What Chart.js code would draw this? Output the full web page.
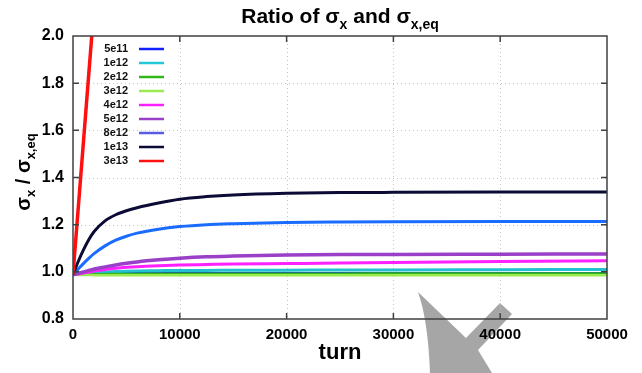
<!DOCTYPE html>
<html><head><meta charset="utf-8">
<script src="https://cdn.jsdelivr.net/npm/chart.js@4"></script>
<style>html,body{margin:0;padding:0;background:#fff;overflow:hidden}</style>
</head><body>
<canvas id="c" width="642" height="373"></canvas>
<script>
// ---- data ----
const turns = [0,500,1000,1500,2000,3000,4000,5000,6000,8000,10000,12500,15000,20000,25000,30000,40000,50000];
const turnsRed = [0, 2000];
const xTicks = [0,10000,20000,30000,40000,50000];
const yTicks = [0.8,1.0,1.2,1.4,1.6,1.8,2.0];
const seriesLabels = ['5e11','1e12','2e12','3e12','4e12','5e12','8e12','1e13','3e13'];
const v5e11 = [0.988,0.990,0.992,0.993,0.994,0.995,0.995,0.996,0.996,0.996,0.996,0.996,0.996,0.996,0.996,0.996,0.996,0.996];
const v1e12 = [0.988,0.990,0.992,0.994,0.996,0.999,1.001,1.003,1.004,1.005,1.006,1.006,1.007,1.007,1.008,1.008,1.009,1.010];
const v2e12 = [0.988,0.988,0.989,0.989,0.990,0.990,0.991,0.991,0.991,0.992,0.992,0.992,0.992,0.992,0.992,0.993,0.993,0.993];
const v3e12 = [0.988,0.987,0.987,0.987,0.986,0.986,0.986,0.986,0.986,0.986,0.986,0.986,0.986,0.986,0.986,0.986,0.986,0.986];
const v4e12 = [0.988,0.991,0.995,0.999,1.003,1.010,1.015,1.019,1.022,1.026,1.029,1.031,1.033,1.035,1.037,1.040,1.044,1.047];
const v5e12 = [0.988,0.994,1.000,1.006,1.012,1.021,1.029,1.036,1.042,1.051,1.058,1.064,1.067,1.071,1.073,1.074,1.075,1.076];
const v8e12 = [0.988,1.012,1.036,1.058,1.078,1.110,1.134,1.151,1.164,1.181,1.192,1.200,1.204,1.209,1.211,1.212,1.213,1.213];
const v1e13 = [0.988,1.045,1.095,1.138,1.172,1.216,1.242,1.259,1.272,1.292,1.308,1.319,1.326,1.333,1.336,1.337,1.338,1.338];
const v3e13 = [0.988,2.140];

const lineColors   = ['#1020ff','#22c0d0','#30b818','#9aea50','#ff20ff','#9a40c8','#1a6cff','#0b0b35','#ff1010'];
const legendColors = ['#1020ff','#22c8d8','#30b818','#9aea50','#ff20ff','#9a40c8','#5a5ae8','#0b0b35','#ff1010'];
const lineWidths   = [1.8,3,2.5,2.5,3,3.5,3,3,3.5];
const allValues = [v5e11,v1e12,v2e12,v3e12,v4e12,v5e12,v8e12,v1e13,v3e13];

function pts(xs, ys){ return xs.map((x,i)=>({x:x,y:ys[i]})); }

const datasets = allValues.map((vals,i)=>({
  label: seriesLabels[i],
  data: pts(i===8 ? turnsRed : turns, vals),
  borderColor: lineColors[i],
  legendColor: legendColors[i],
  borderWidth: lineWidths[i],
  pointRadius: 0,
  fill: false,
  cubicInterpolationMode: 'monotone',
  order: 8 - i
}));

const FONT = '"Liberation Sans", Arial, sans-serif';

function drawSubText(ctx, parts, x, y, align){
  let w = 0;
  parts.forEach(p=>{ ctx.font = p.font; w += ctx.measureText(p.t).width; });
  let cx = align==='center' ? x - w/2 : x;
  parts.forEach(p=>{
    ctx.font = p.font;
    ctx.fillText(p.t, cx, y + (p.dy||0));
    cx += ctx.measureText(p.t).width;
  });
}

const decor = {
  id: 'decor',
  beforeDraw(chart){
    const ctx = chart.ctx;
    ctx.save();
    ctx.fillStyle = '#fff';
    ctx.fillRect(0,0,chart.width,chart.height);
    // gray arrow overlay
    ctx.fillStyle = '#a6a6a6';
    ctx.beginPath();
    ctx.moveTo(418,292);
    ctx.lineTo(466,338);
    ctx.lineTo(500,303);
    ctx.lineTo(512,314);
    ctx.lineTo(478,350);
    ctx.lineTo(492,373);
    ctx.lineTo(430,373);
    ctx.quadraticCurveTo(428,320,418,292);
    ctx.closePath();
    ctx.fill();
    ctx.restore();
  },
  beforeDatasetsDraw(chart){
    const {ctx, chartArea:a, scales:{x,y}} = chart;
    ctx.save();
    ctx.strokeStyle = '#c4c4c4';
    ctx.lineWidth = 1;
    ctx.setLineDash([1,3]);
    xTicks.forEach(v=>{
      if (v<=x.min || v>=x.max) return;
      const px = Math.round(x.getPixelForValue(v))+0.5;
      ctx.beginPath(); ctx.moveTo(px,a.top); ctx.lineTo(px,a.bottom); ctx.stroke();
    });
    yTicks.forEach(v=>{
      if (v<=y.min+1e-9 || v>=y.max-1e-9) return;
      const py = Math.round(y.getPixelForValue(v))+0.5;
      ctx.beginPath(); ctx.moveTo(a.left,py); ctx.lineTo(a.right,py); ctx.stroke();
    });
    ctx.restore();
  },
  afterDatasetsDraw(chart){
    const {ctx, chartArea:a, scales:{x,y}} = chart;
    ctx.save();
    ctx.strokeStyle = '#404040';
    ctx.lineWidth = 1.5;
    ctx.strokeRect(a.left, a.top, a.right-a.left, a.bottom-a.top);
    const tl = 6;
    ctx.beginPath();
    xTicks.forEach(v=>{
      if (v<=x.min || v>=x.max) return;
      const px = x.getPixelForValue(v);
      ctx.moveTo(px,a.bottom); ctx.lineTo(px,a.bottom-tl);
      ctx.moveTo(px,a.top); ctx.lineTo(px,a.top+tl);
    });
    yTicks.forEach(v=>{
      if (v<=y.min+1e-9 || v>=y.max-1e-9) return;
      const py = y.getPixelForValue(v);
      ctx.moveTo(a.left,py); ctx.lineTo(a.left+tl,py);
      ctx.moveTo(a.right,py); ctx.lineTo(a.right-tl,py);
    });
    ctx.stroke();

    // legend
    ctx.textAlign = 'right';
    ctx.textBaseline = 'middle';
    ctx.font = 'bold 11px ' + FONT;
    chart.data.datasets.forEach((ds,i)=>{
      const ly = 49 + 14*i;
      ctx.fillStyle = '#111';
      ctx.fillText(ds.label, 128, ly);
      ctx.strokeStyle = ds.legendColor;
      ctx.lineWidth = 2.5;
      ctx.beginPath(); ctx.moveTo(139, ly); ctx.lineTo(164, ly); ctx.stroke();
    });

    // title
    ctx.fillStyle = '#000';
    ctx.textAlign = 'left';
    ctx.textBaseline = 'alphabetic';
    const big = 'bold 21px ' + FONT, sub = 'bold 14px ' + FONT;
    const cx = (a.left + a.right)/2;
    drawSubText(ctx, [
      {t:'Ratio of \u03c3', font:big},
      {t:'x', font:sub, dy:6},
      {t:' and \u03c3', font:big},
      {t:'x,eq', font:sub, dy:6}
    ], cx, 23, 'center');

    // x axis title
    ctx.font = 'bold 22px ' + FONT;
    ctx.textAlign = 'center';
    ctx.fillText('turn', cx, 359);

    // y axis title
    ctx.save();
    ctx.translate(30, 172);
    ctx.rotate(-Math.PI/2);
    ctx.textAlign = 'left';
    const yb = 'bold 20px ' + FONT, ys = 'bold 13px ' + FONT;
    drawSubText(ctx, [
      {t:'\u03c3', font:yb},
      {t:'x', font:ys, dy:5},
      {t:' / \u03c3', font:yb},
      {t:'x,eq', font:ys, dy:5}
    ], 0, 0, 'center');
    ctx.restore();
    ctx.restore();
  }
};

new Chart(document.getElementById('c'), {
  type: 'line',
  data: { datasets: datasets },
  options: {
    responsive: false,
    devicePixelRatio: 1,
    animation: false,
    events: [],
    layout: { padding: { top: 36, right: 35, left: 0, bottom: 0 } },
    plugins: { legend: {display:false}, title: {display:false}, tooltip: {enabled:false} },
    scales: {
      x: {
        type: 'linear', min: 0, max: 50000,
        afterBuildTicks(s){ s.ticks = xTicks.map(v=>({value:v})); },
        afterFit(s){ s.height = 54; },
        grid: { display:false, drawTicks:false },
        border: { display:false },
        ticks: { padding: 7, color:'#000', maxRotation:0, autoSkip:false,
                 font: { family: FONT, size: 15, weight: 'bold' },
                 callback: v => String(v) }
      },
      y: {
        type: 'linear', min: 0.8, max: 2.0,
        afterBuildTicks(s){ s.ticks = yTicks.map(v=>({value:v})); },
        afterFit(s){ s.width = 73; },
        grid: { display:false, drawTicks:false },
        border: { display:false },
        ticks: { padding: 9, color:'#000', autoSkip:false,
                 font: { family: FONT, size: 16, weight: 'bold' },
                 callback: v => Number(v).toFixed(1) }
      }
    }
  },
  plugins: [decor]
});
</script>
</body></html>
